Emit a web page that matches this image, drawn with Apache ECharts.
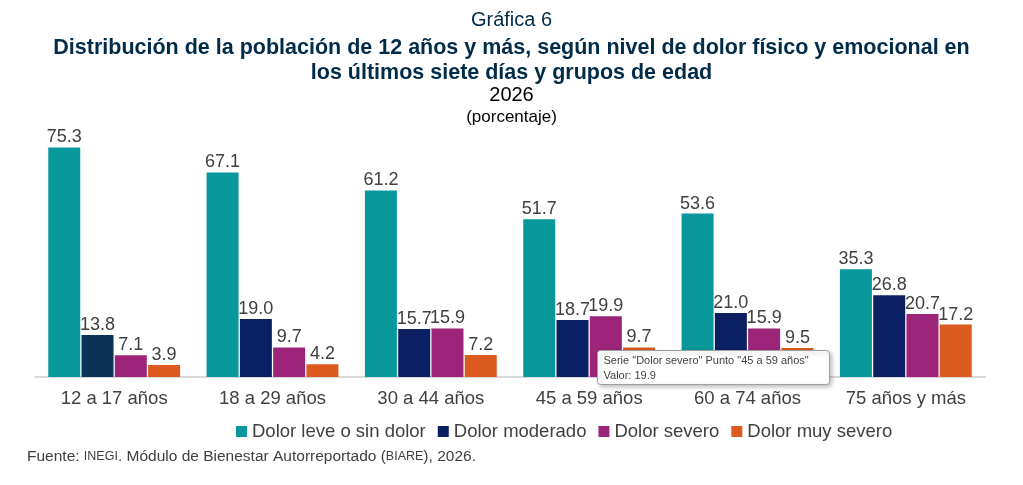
<!DOCTYPE html>
<html lang="es">
<head>
<meta charset="UTF-8">
<title>Gráfica 6</title>
<script src="https://cdn.jsdelivr.net/npm/echarts@6/dist/echarts.min.js"></script>
<style>
  html, body { margin: 0; padding: 0; background: #fff; }
  #main { width: 1023px; height: 485px; }
</style>
</head>
<body>
<div id="main"></div>
<script>
var categories = ['12 a 17 años', '18 a 29 años', '30 a 44 años', '45 a 59 años', '60 a 74 años', '75 años y más'];
var leve = [75.3, 67.1, 61.2, 51.7, 53.6, 35.3];
var moderado = [13.8, 19.0, 15.7, 18.7, 21.0, 26.8];
var severo = [7.1, 9.7, 15.9, 19.9, 15.9, 20.7];
var muySevero = [3.9, 4.2, 7.2, 9.7, 9.5, 17.2];

var font = 'Arial, "Liberation Sans", sans-serif';
var myChart = echarts.init(document.getElementById('main'));

function serie(name, data, color) {
    return {
        name: name,
        type: 'bar',
        data: data,
        barWidth: 32,
        barGap: '4%',
        itemStyle: { color: color },
        label: {
            show: true,
            position: 'top',
            distance: 1,
            color: '#404040',
            fontSize: 18,
            fontFamily: font,
            formatter: function (p) { return p.value.toFixed(1); }
        }
    };
}

// la primera barra de "Dolor moderado" aparece con otro tono en la original
var moderadoData = moderado.map(function (v, i) {
    return i === 0 ? { value: v, itemStyle: { color: '#0B3358' } } : v;
});

var option = {
    animation: false,
    title: [
        { text: 'Gráfica 6', left: 'center', top: 5,
          textStyle: { fontSize: 20, fontWeight: 'normal', color: '#002B49', fontFamily: font } },
        { text: 'Distribución de la población de 12 años y más, según nivel de dolor físico y emocional en\nlos últimos siete días y grupos de edad',
          left: 'center', top: 31,
          textStyle: { fontSize: 21.5, fontWeight: 'bold', color: '#002B49', fontFamily: font, lineHeight: 25, align: 'center' } },
        { text: '2026', left: 'center', top: 80,
          textStyle: { fontSize: 20, fontWeight: 'normal', color: '#000', fontFamily: font } },
        { text: '(porcentaje)', left: 'center', top: 104,
          textStyle: { fontSize: 17, fontWeight: 'normal', color: '#000', fontFamily: font } },
        { text: 'Fuente: {s|INEGI}. Módulo de Bienestar Autorreportado ({s|BIARE}), 2026.', left: 22, top: 444,
          textStyle: { fontSize: 15.5, fontWeight: 'normal', color: '#404040', fontFamily: font,
                       rich: { s: { fontSize: 12.5, color: '#404040', fontFamily: font } } } }
    ],
    legend: {
        top: 417, left: 231,
        itemWidth: 11, itemHeight: 11, itemGap: 12,
        icon: 'rect',
        textStyle: { fontSize: 18.5, color: '#404040', fontFamily: font },
        data: ['Dolor leve o sin dolor', 'Dolor moderado', 'Dolor severo', 'Dolor muy severo']
    },
    grid: { left: 35, right: 38, top: 130, bottom: 108 },
    xAxis: {
        type: 'category',
        data: categories,
        axisTick: { show: false },
        axisLine: { lineStyle: { color: '#D9D9D9', width: 2 } },
        axisLabel: { fontSize: 18.5, color: '#404040', fontFamily: font, margin: 12 }
    },
    yAxis: { type: 'value', min: 0, max: 81, show: false, splitLine: { show: false } },
    series: [
        serie('Dolor leve o sin dolor', leve, '#08989B'),
        serie('Dolor moderado', moderadoData, '#0A2062'),
        serie('Dolor severo', severo, '#9C2479'),
        serie('Dolor muy severo', muySevero, '#DC5A1E')
    ],
    graphic: [{
        type: 'group', left: 597, top: 350, z: 100,
        children: [
            { type: 'rect', z: 100, shape: { x: 0, y: 0, width: 232, height: 34, r: 3 },
              style: { fill: '#fff', stroke: '#A0A0A0', lineWidth: 1, shadowBlur: 4, shadowColor: 'rgba(0,0,0,0.25)', shadowOffsetX: 2, shadowOffsetY: 2 } },
            { type: 'text', z: 101, x: 6, y: 3,
              style: { text: 'Serie "Dolor severo" Punto "45 a 59 años"\nValor: 19.9', fontSize: 11, lineHeight: 15, fill: '#404040', fontFamily: font } }
        ]
    }]
};

myChart.setOption(option);
window.onresize = myChart.resize;
</script>
</body>
</html>
